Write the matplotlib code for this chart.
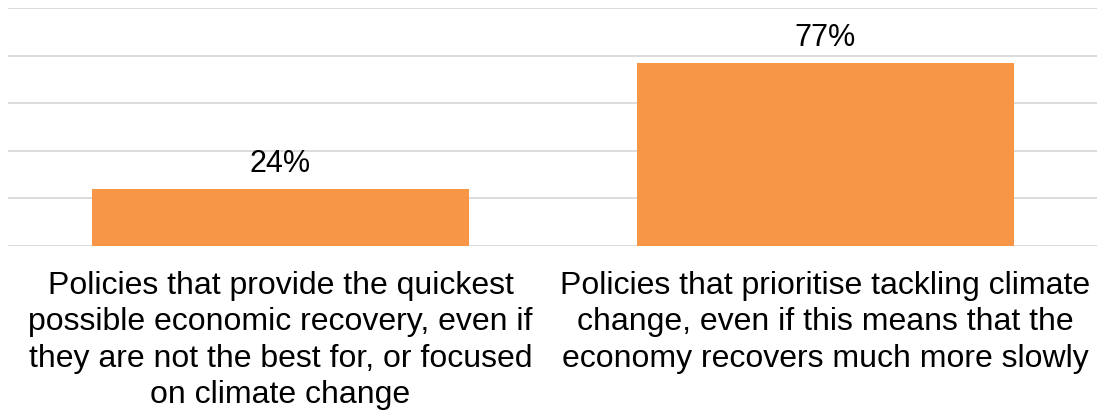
import numpy as np
import matplotlib.pyplot as plt

plt.rcParams['font.family'] = ['Liberation Sans', 'DejaVu Sans']

# Данные
categories = [
    "Policies that provide the quickest\npossible economic recovery, even if\nthey are not the best for, or focused\non climate change",
    "Policies that prioritise tackling climate\nchange, even if this means that the\neconomy recovers much more slowly",
]
values = [24, 77]
bar_color = '#F79646'
grid_color = '#D9D9D9'

fig = plt.figure(figsize=(10.97, 4.11), dpi=100)
ax = fig.add_axes([8 / 1097, 1 - 246 / 411, 1090 / 1097, 238 / 411])

x = np.arange(len(values))
bars = ax.bar(x, values, width=0.69, color=bar_color, zorder=2)

ax.set_xlim(-0.5, len(values) - 0.5)
ax.set_ylim(0, 100)
ax.set_yticks(np.arange(0, 101, 20))
ax.yaxis.grid(True, color=grid_color, linewidth=1.3, zorder=0)
ax.tick_params(axis='y', left=False, labelleft=False)
ax.tick_params(axis='x', length=0, pad=18)
for s in ax.spines.values():
    s.set_visible(False)

ax.set_xticks(x)
ax.set_xticklabels(categories, fontsize=23, linespacing=1.28, va='top')

# Подписи значений
for b, v in zip(bars, values):
    ax.annotate(f"{v}%", (b.get_x() + b.get_width() / 2, v),
                xytext=(0, 12), textcoords='offset points',
                ha='center', va='baseline', fontsize=22)

fig.savefig('out.png', dpi=100)
